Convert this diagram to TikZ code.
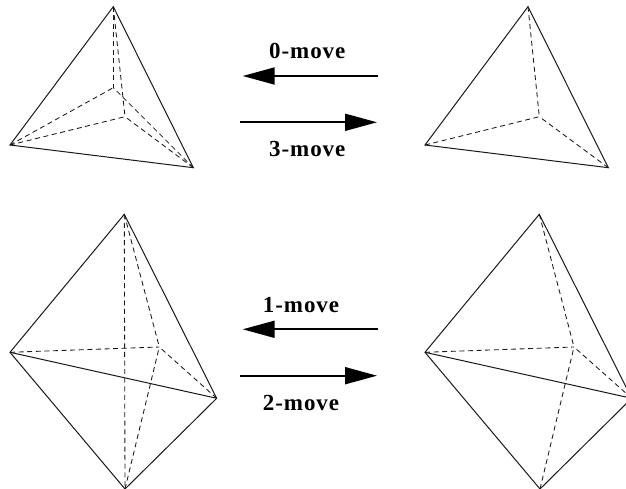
\documentclass[tikz,border=0pt]{standalone}
\usepackage{fontspec}
\usetikzlibrary{arrows.meta}
\newfontfamily\movefont[LetterSpace=4,BoldFont={Liberation Serif Bold}]{Liberation Serif}
\tikzset{
  solidedge/.style={line width=1pt,black!90},
  hiddenedge/.style={line width=0.85pt,black!90,dash pattern=on 5pt off 3.6pt},
  movearrow/.style={line width=1.8pt,-{Triangle[length=32pt,width=17pt,sep=0pt]}},
  movelabel/.style={anchor=base,inner sep=0pt,font=\movefont\bfseries\fontsize{23}{26}\selectfont}
}
\begin{document}
\begin{tikzpicture}[x=1pt,y=-1pt]
\useasboundingbox (0,0) rectangle (626,489);
% top left
\coordinate (ta) at (113.3,6.7);
\coordinate (tl) at (10,145);
\coordinate (tr) at (193.3,167.7);
\coordinate (ti) at (113.3,87.7);
\coordinate (tj) at (125,116.7);
\draw[solidedge] (tl) -- (ta) -- (tr) -- cycle;
\foreach \p in {ta,tl,tr} {\draw[hiddenedge] (\p) -- (ti); \draw[hiddenedge] (\p) -- (tj);}
% top right
\coordinate (ua) at (528,6.7);
\coordinate (ul) at (425,145);
\coordinate (ur) at (608.3,167.7);
\coordinate (uj) at (539.3,116.7);
\draw[solidedge] (ul) -- (ua) -- (ur) -- cycle;
\foreach \p in {ua,ul,ur} {\draw[hiddenedge] (\p) -- (uj);}
% bottom left
\coordinate (ba) at (124.3,214.3);
\coordinate (bl) at (10,352.3);
\coordinate (br) at (216.7,398.3);
\coordinate (bb) at (125,489);
\coordinate (bi) at (159.3,347);
\draw[solidedge] (bl) -- (ba) -- (br) -- (bb) -- cycle;
\draw[solidedge] (bl) -- (br);
\draw[hiddenedge] (ba) -- (bb);
\foreach \p in {ba,bl,br,bb} {\draw[hiddenedge] (\p) -- (bi);}
% bottom right
\coordinate (ca) at (539.3,214.3);
\coordinate (cl) at (425,352.3);
\coordinate (cr) at (631.7,398.3);
\coordinate (cb) at (540,489);
\coordinate (ci) at (574,347);
\begin{scope}
\clip (0,0) rectangle (626,489);
\draw[solidedge] (cl) -- (ca) -- (cr) -- (cb) -- cycle;
\draw[solidedge] (cl) -- (cr);
\foreach \p in {ca,cl,cr,cb} {\draw[hiddenedge] (\p) -- (ci);}
\end{scope}
% arrows
\coordinate (a0s) at (378,76); \coordinate (a0e) at (242.7,76);
\coordinate (a3s) at (240,122.3); \coordinate (a3e) at (377,122.3);
\coordinate (a1s) at (378,329.3); \coordinate (a1e) at (242.7,329.3);
\coordinate (a2s) at (240,375.7); \coordinate (a2e) at (377,375.7);
\draw[movearrow] (a0s) -- (a0e);
\draw[movearrow] (a3s) -- (a3e);
\draw[movearrow] (a1s) -- (a1e);
\draw[movearrow] (a2s) -- (a2e);
\node[movelabel] (l0) at (307.3,58.3) {0-move};
\node[movelabel] (l3) at (307.3,156.7) {3-move};
\node[movelabel] (l1) at (301,312.3) {1-move};
\node[movelabel] (l2) at (301,410) {2-move};
\end{tikzpicture}
\end{document}
